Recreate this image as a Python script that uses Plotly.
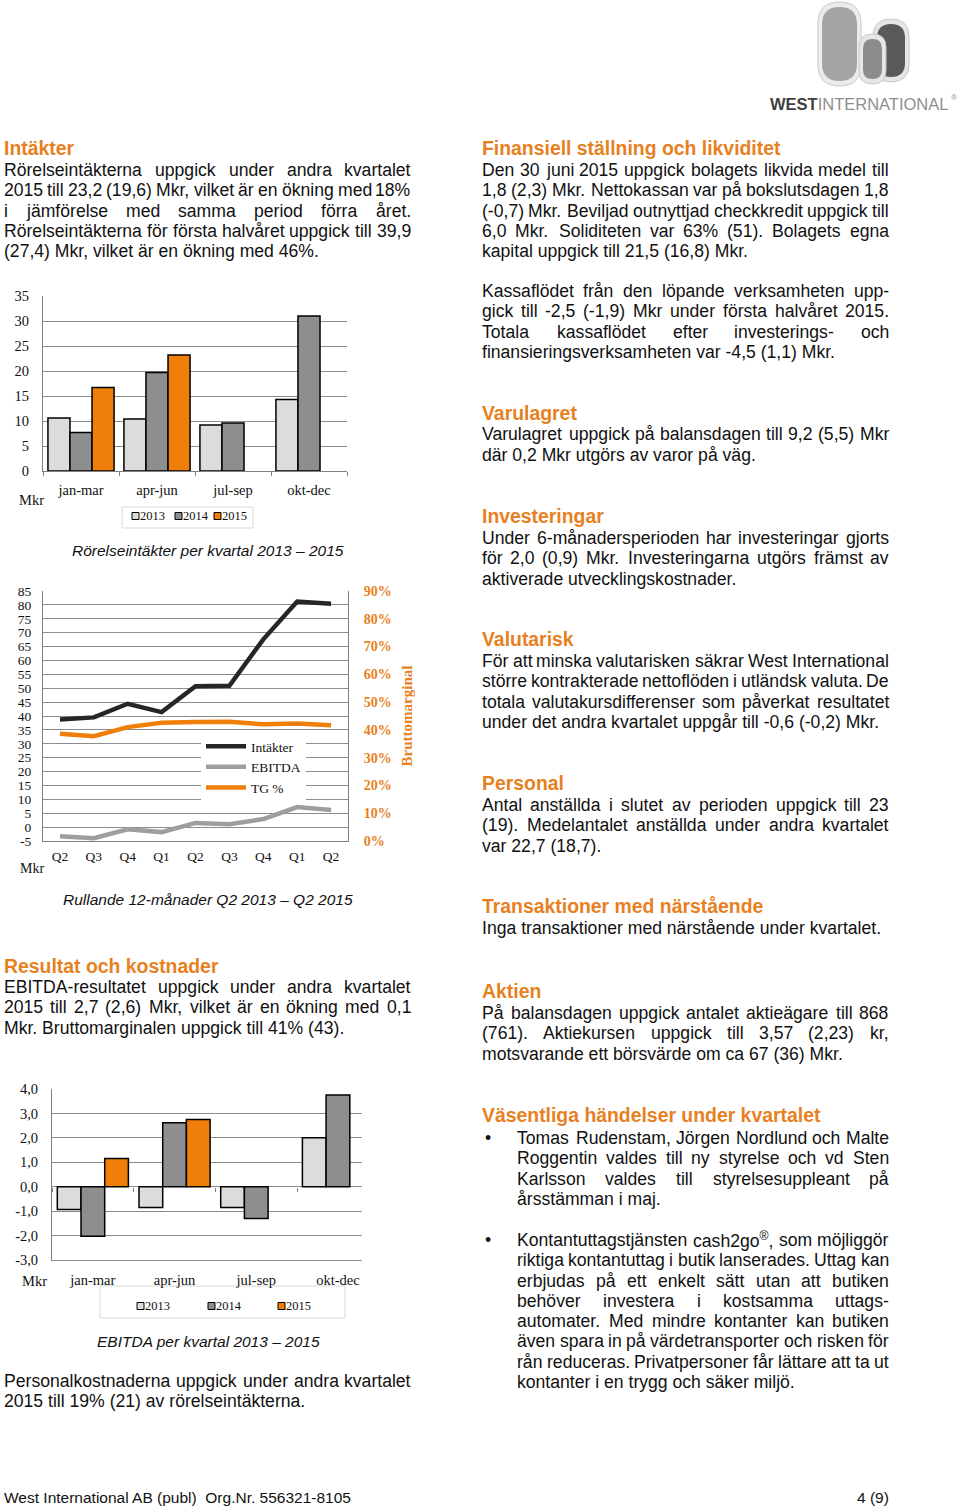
import plotly.graph_objects as go

W, H = 960, 1507


def px(x):
    return x / W


def py(y):
    return 1 - y / H


# ---------------- DATA ----------------
quarters = ["jan-mar", "apr-jun", "jul-sep", "okt-dec"]
years = ["2013", "2014", "2015"]
revenue_2013 = [10.6, 10.4, 9.2, 14.3]
revenue_2014 = [7.7, 19.7, 9.6, 31.0]
revenue_2015 = [16.7, 23.2, None, None]

periods = ["Q2 2013", "Q3 2013", "Q4 2013", "Q1 2014", "Q2 2014",
           "Q3 2014", "Q4 2014", "Q1 2015", "Q2 2015"]
period_labels = ["Q2", "Q3", "Q4", "Q1", "Q2", "Q3", "Q4", "Q1", "Q2"]
rolling_revenue = [38.7, 39.5, 44.4, 41.4, 50.7, 50.9, 67.6, 81.2, 80.4]
rolling_ebitda = [-3.3, -4.0, -0.8, -1.8, 1.5, 1.0, 2.9, 7.2, 6.2]
rolling_tg = [38.6, 37.7, 41.0, 42.6, 42.8, 42.9, 42.0, 42.3, 41.7]

ebitda_2013 = [-0.93, -0.85, -0.85, 2.0]
ebitda_2014 = [-2.03, 2.62, -1.3, 3.75]
ebitda_2015 = [1.15, 2.75, None, None]

rev_ticks = [0, 5, 10, 15, 20, 25, 30, 35]
roll_ticks = [-5, 0, 5, 10, 15, 20, 25, 30, 35, 40, 45, 50, 55, 60, 65, 70, 75, 80, 85]
tg_ticks = [0, 10, 20, 30, 40, 50, 60, 70, 80, 90]
ebitda_ticks = [-3, -2, -1, 0, 1, 2, 3, 4]

# ---------------- STYLE ----------------
SERIF = "Liberation Serif, Times New Roman, serif"
SANS = "Liberation Sans, Arial, sans-serif"
ORANGE = "#F07F0A"
HEAD = "#E7811F"
C13, C14 = "#DCDCDC", "#8E8E8E"
GRID = "#8C8C8C"
AXIS = "#7F7F7F"
TXT = "#111111"
year_colors = [C13, C14, ORANGE]

fig = go.Figure()

# ---------------- CHART 1: revenue per quarter ----------------
for name, vals, col in zip(years, [revenue_2013, revenue_2014, revenue_2015], year_colors):
    fig.add_trace(go.Bar(x=quarters, y=vals, name=name, xaxis="x", yaxis="y",
                         marker=dict(color=col, line=dict(color="black", width=1.5)),
                         showlegend=False))

# ---------------- CHART 2: rolling 12 months ----------------
fig.add_trace(go.Scatter(x=periods, y=rolling_revenue, name="Intäkter", mode="lines",
                         line=dict(color="#262626", width=4.5), xaxis="x2", yaxis="y2"))
fig.add_trace(go.Scatter(x=periods, y=rolling_ebitda, name="EBITDA", mode="lines",
                         line=dict(color="#9E9E9E", width=4.5), xaxis="x2", yaxis="y2"))
fig.add_trace(go.Scatter(x=periods, y=rolling_tg, name="TG %", mode="lines",
                         line=dict(color=ORANGE, width=4.5), xaxis="x2", yaxis="y3"))

# ---------------- CHART 3: EBITDA per quarter ----------------
for name, vals, col in zip(years, [ebitda_2013, ebitda_2014, ebitda_2015], year_colors):
    fig.add_trace(go.Bar(x=quarters, y=vals, name=name, xaxis="x3", yaxis="y4",
                         marker=dict(color=col, line=dict(color="black", width=1.5)),
                         showlegend=False))
# carrier for the tick marks along the zero line
fig.add_trace(go.Scatter(x=quarters, y=[None] * len(quarters), xaxis="x4", yaxis="y4",
                         showlegend=False, hoverinfo="skip"))

tickfont = dict(family=SERIF, size=14.5, color=TXT)

# chart 3 geometry: visible part of category axis (chart is clipped at the right)
c3_left, c3_right, c3_cat = 52, 362, 81.7
c3_range = [-0.5, -0.5 + (c3_right - c3_left) / c3_cat]
c3_top, c3_bot = 1089, 1260
zero_frac = (0 - ebitda_ticks[0]) / (ebitda_ticks[-1] - ebitda_ticks[0])
zero_pos = py(c3_bot) + zero_frac * (py(c3_top) - py(c3_bot))

fig.update_layout(
    width=W, height=H,
    margin=dict(l=0, r=0, t=0, b=0, pad=0, autoexpand=False),
    paper_bgcolor="white", plot_bgcolor="white",
    barmode="group", bargap=0.13, bargroupgap=0,
    showlegend=True,
    legend=dict(x=px(201), y=py(731), xanchor="left", yanchor="top",
                bgcolor="white", borderwidth=0, itemwidth=40,
                font=dict(family=SERIF, size=13.5, color=TXT), tracegroupgap=0),
    xaxis=dict(domain=[px(43), px(347)], anchor="y", type="category",
               categoryarray=quarters, range=[-0.5, 3.5],
               showline=True, linecolor=AXIS, linewidth=1, ticks="outside",
               tickson="boundaries", ticklen=4, tickcolor=AXIS, showgrid=False,
               tickfont=tickfont, ticklabelstandoff=6),
    yaxis=dict(domain=[py(471), py(296)], anchor="x", range=[0, 35],
               tickvals=rev_ticks, showgrid=True, gridcolor=GRID, gridwidth=1,
               showline=True, linecolor=AXIS, zeroline=False, ticks="",
               tickfont=tickfont, ticklabelstandoff=10),
    xaxis2=dict(domain=[px(43), px(348)], anchor="y2", type="category",
                categoryarray=periods, tickvals=periods, ticktext=period_labels,
                range=[-0.5, 8.5], showline=True, linecolor=AXIS, ticks="",
                showgrid=False, tickfont=dict(family=SERIF, size=13.5, color=TXT),
                ticklabelstandoff=3),
    yaxis2=dict(domain=[py(841), py(591)], anchor="x2", range=[-5, 85],
                tickvals=roll_ticks, ticktext=[str(v) for v in roll_ticks],
                showgrid=True, gridcolor=GRID, showline=True, linecolor=AXIS,
                zeroline=False, ticks="",
                tickfont=dict(family=SERIF, size=13.5, color=TXT), ticklabelstandoff=8),
    yaxis3=dict(overlaying="y2", side="right", anchor="x2", range=[0, 90],
                tickvals=tg_ticks, ticktext=[f"{v}%" for v in tg_ticks],
                showgrid=False, showline=True, linecolor=AXIS, zeroline=False, ticks="",
                tickfont=dict(family=SERIF, size=14, color="#E8811D", weight="bold"),
                ticklabelstandoff=12,
                title=dict(text="Bruttomarginal", standoff=10,
                           font=dict(family=SERIF, size=15, color="#E8811D", weight="bold"))),
    xaxis3=dict(domain=[px(c3_left), px(c3_right)], anchor="y4", type="category",
                categoryarray=quarters, range=c3_range, showline=True, linecolor=GRID,
                ticks="", showgrid=False, tickfont=tickfont, ticklabelstandoff=7),
    xaxis4=dict(overlaying="x3", anchor="free", position=zero_pos, type="category",
                categoryarray=quarters, range=c3_range, showline=False, showgrid=False,
                ticks="outside", tickson="boundaries", ticklen=4, tickcolor=AXIS,
                showticklabels=False),
    yaxis4=dict(domain=[py(c3_bot), py(c3_top)], anchor="x3", range=[-3, 4],
                tickvals=ebitda_ticks,
                ticktext=[f"{v:.1f}".replace(".", ",") for v in ebitda_ticks],
                showgrid=True, gridcolor=GRID, showline=True, linecolor=AXIS,
                zeroline=False, ticks="", tickfont=tickfont, ticklabelstandoff=10),
)

annotations = []
shapes = []


def ann(text, x, y, size, family=SANS, color=TXT, xanchor="left", yanchor="middle",
        weight="normal", style="normal", textangle=0):
    annotations.append(dict(text=text, x=px(x), y=py(y), xref="paper", yref="paper",
                            showarrow=False, xanchor=xanchor, yanchor=yanchor,
                            borderpad=0, borderwidth=0, textangle=textangle,
                            font=dict(family=family, size=size, color=color,
                                      weight=weight, style=style)))


# ---- chart labels ----
ann("Mkr", 31, 500, 14.5, SERIF, xanchor="center")
ann("Rörelseintäkter per kvartal 2013 – 2015", 208, 550, 15.5, SANS, xanchor="center", style="italic")
ann("Mkr", 32, 869, 14, SERIF, xanchor="center")
ann("Rullande 12-månader Q2 2013 – Q2 2015", 208, 900, 15.5, SANS, xanchor="center", style="italic")
ann("Mkr", 34, 1281, 14.5, SERIF, xanchor="center")
ann("EBITDA per kvartal 2013 – 2015", 208, 1341, 15.5, SANS, xanchor="center", style="italic")


def box_legend(x0, y0, x1, y1, items_x, yc):
    shapes.append(dict(type="rect", xref="paper", yref="paper", x0=px(x0), x1=px(x1),
                       y0=py(y1), y1=py(y0), line=dict(color="#D9D9D9", width=1),
                       fillcolor="rgba(0,0,0,0)", layer="below"))
    for name, col, xs in zip(years, year_colors, items_x):
        shapes.append(dict(type="rect", xref="paper", yref="paper",
                           x0=px(xs), x1=px(xs + 7), y0=py(yc + 3.5), y1=py(yc - 3.5),
                           line=dict(color="black", width=1), fillcolor=col, layer="above"))
        ann(name, xs + 8, yc, 12.5, SERIF)


box_legend(122, 507, 253, 528, [132, 175, 214], 516)
box_legend(100, 1286, 345, 1318, [137, 208, 278], 1306)

# ---- text blocks ----
AW = {' ': 278, 'a': 556, 'b': 556, 'c': 500, 'd': 556, 'e': 556, 'f': 278, 'g': 556,
      'h': 556, 'i': 222, 'j': 222, 'k': 500, 'l': 222, 'm': 833, 'n': 556, 'o': 556,
      'p': 556, 'q': 556, 'r': 333, 's': 500, 't': 278, 'u': 556, 'v': 500, 'w': 722,
      'x': 500, 'y': 500, 'z': 500, 'A': 667, 'B': 667, 'C': 722, 'D': 722, 'E': 667,
      'F': 611, 'G': 778, 'H': 722, 'I': 278, 'J': 500, 'K': 667, 'L': 556, 'M': 833,
      'N': 722, 'O': 778, 'P': 667, 'Q': 778, 'R': 722, 'S': 667, 'T': 611, 'U': 722,
      'V': 667, 'W': 944, 'X': 667, 'Y': 667, 'Z': 611, '(': 333, ')': 333, ',': 278,
      '.': 278, '-': 333, '%': 889, ':': 278, ';': 278, '®': 500, '–': 556, 'ä': 556,
      'å': 556, 'ö': 556, 'Ä': 667, 'Å': 667, 'Ö': 778, 'é': 556}
for d in "0123456789":
    AW[d] = 556

BODY = 17.6
STEP = 20.25


def strip(s):
    return s.replace("<sup>", "").replace("</sup>", "")


def tw(s, size=BODY):
    return sum(AW.get(c, 556) for c in strip(s)) / 1000 * size


def para(lines, x0, x1, y0, step=STEP):
    for i, line in enumerate(lines):
        y = y0 + i * step
        if i == len(lines) - 1:
            ann(line, x0, y, BODY)
            continue
        words = line.split(" ")
        widths = [tw(w) for w in words]
        gap = (x1 - x0 - sum(widths)) / (len(words) - 1)
        x = x0
        for j, (w, wd) in enumerate(zip(words, widths)):
            if j == len(words) - 1:
                ann(w, x1, y, BODY, xanchor="right")
            else:
                ann(w, x, y, BODY)
            x += wd + gap


def heading(text, x, y):
    ann(text, x, y, 19.4, SANS, HEAD, weight="bold")


L0, L1 = 4, 411
R0, R1 = 482, 889

heading("Intäkter", L0, 148)
para(["Rörelseintäkterna uppgick under andra kvartalet",
      "2015 till 23,2 (19,6) Mkr, vilket är en ökning med 18%",
      "i jämförelse med samma period förra året.",
      "Rörelseintäkterna för första halvåret uppgick till 39,9",
      "(27,4) Mkr, vilket är en ökning med 46%."], L0, L1, 170)

heading("Resultat och kostnader", L0, 966)
para(["EBITDA-resultatet uppgick under andra kvartalet",
      "2015 till 2,7 (2,6) Mkr, vilket är en ökning med 0,1",
      "Mkr. Bruttomarginalen uppgick till 41% (43)."], L0, L1, 987)

para(["Personalkostnaderna uppgick under andra kvartalet",
      "2015 till 19% (21) av rörelseintäkterna."], L0, L1, 1381)

heading("Finansiell ställning och likviditet", R0, 148)
para(["Den 30 juni 2015 uppgick bolagets likvida medel till",
      "1,8 (2,3) Mkr. Nettokassan var på bokslutsdagen 1,8",
      "(-0,7) Mkr. Beviljad outnyttjad checkkredit uppgick till",
      "6,0 Mkr. Soliditeten var 63% (51). Bolagets egna",
      "kapital uppgick till 21,5 (16,8) Mkr."], R0, R1, 170)
para(["Kassaflödet från den löpande verksamheten upp-",
      "gick till -2,5 (-1,9) Mkr under första halvåret 2015.",
      "Totala kassaflödet efter investerings- och",
      "finansieringsverksamheten var -4,5 (1,1) Mkr."], R0, R1, 291)

heading("Varulagret", R0, 413)
para(["Varulagret uppgick på balansdagen till 9,2 (5,5) Mkr",
      "där 0,2 Mkr utgörs av varor på väg."], R0, R1, 434.5)

heading("Investeringar", R0, 516)
para(["Under 6-månadersperioden har investeringar gjorts",
      "för 2,0 (0,9) Mkr. Investeringarna utgörs främst av",
      "aktiverade utvecklingskostnader."], R0, R1, 538)

heading("Valutarisk", R0, 639)
para(["För att minska valutarisken säkrar West International",
      "större kontrakterade nettoflöden i utländsk valuta. De",
      "totala valutakursdifferenser som påverkat resultatet",
      "under det andra kvartalet uppgår till -0,6 (-0,2) Mkr."], R0, R1, 661)

heading("Personal", R0, 783)
para(["Antal anställda i slutet av perioden uppgick till 23",
      "(19). Medelantalet anställda under andra kvartalet",
      "var 22,7 (18,7)."], R0, R1, 805)

heading("Transaktioner med närstående", R0, 906)
para(["Inga transaktioner med närstående under kvartalet."], R0, R1, 928)

heading("Aktien", R0, 991)
para(["På balansdagen uppgick antalet aktieägare till 868",
      "(761). Aktiekursen uppgick till 3,57 (2,23) kr,",
      "motsvarande ett börsvärde om ca 67 (36) Mkr."], R0, R1, 1013)

heading("Väsentliga händelser under kvartalet", R0, 1115)
ann("•", 485, 1138, BODY)
para(["Tomas Rudenstam, Jörgen Nordlund och Malte",
      "Roggentin valdes till ny styrelse och vd Sten",
      "Karlsson valdes till styrelsesuppleant på",
      "årsstämman i maj."], 517, R1, 1138)
ann("•", 485, 1240, BODY)
para(["Kontantuttagstjänsten cash2go<sup>®</sup>, som möjliggör",
      "riktiga kontantuttag i butik lanserades. Uttag kan",
      "erbjudas på ett enkelt sätt utan att butiken",
      "behöver investera i kostsamma uttags-",
      "automater. Med mindre kontanter kan butiken",
      "även spara in på värdetransporter och risken för",
      "rån reduceras. Privatpersoner får lättare att ta ut",
      "kontanter i en trygg och säker miljö."], 517, R1, 1240)

# footer
ann("West International AB (publ)\u00a0 Org.Nr. 556321-8105", 4, 1497, 15.5)
ann("4 (9)", 889, 1497, 15.5, xanchor="right")


# ---- logo ----
def rrect(x0, y0, x1, y1, r):
    def p(x, y):
        return f"{px(x):.5f},{py(y):.5f}"
    return (f"M{p(x0 + r, y0)} L{p(x1 - r, y0)} Q{p(x1, y0)} {p(x1, y0 + r)} "
            f"L{p(x1, y1 - r)} Q{p(x1, y1)} {p(x1 - r, y1)} L{p(x0 + r, y1)} "
            f"Q{p(x0, y1)} {p(x0, y1 - r)} L{p(x0, y0 + r)} Q{p(x0, y0)} {p(x0 + r, y0)} Z")


def logo_piece(x0, y0, x1, y1, rim, inner):
    r = (x1 - x0) / 2
    shapes.append(dict(type="path", xref="paper", yref="paper", path=rrect(x0, y0, x1, y1, r),
                       fillcolor=rim, line=dict(color="#C8C8C8", width=1), layer="above"))
    shapes.append(dict(type="path", xref="paper", yref="paper",
                       path=rrect(x0 + 4, y0 + 5, x1 - 4, y1 - 5, r - 4),
                       fillcolor=inner, line=dict(width=0), layer="above"))


logo_piece(873, 19, 909, 82, "#E6E6E6", "#5A5A5A")
logo_piece(818, 2, 861, 86, "#ECECEC", "#A4A4A4")
logo_piece(859, 34, 886, 84, "#E6E6E6", "#8C8C8C")
ann("<b>WEST</b><span style='color:#8E8E8E'>INTERNATIONAL</span>", 770, 104, 16.5,
    SANS, "#3F3F3F")
ann("®", 951, 97, 8, SANS, "#8E8E8E")

fig.update_layout(annotations=annotations, shapes=shapes)

page_fix = (
    "document.documentElement.style.margin='0';"
    "document.documentElement.style.padding='0';"
    "document.documentElement.style.overflow='hidden';"
    "document.body.style.margin='0';"
    "document.body.style.padding='0';"
    "document.body.style.overflow='hidden';"
    "var gd=document.getElementById('{plot_id}');"
    "gd.style.position='absolute';gd.style.left='0px';gd.style.top='0px';"
)
fig.write_html("out.html", config={"displayModeBar": False}, post_script=page_fix)
